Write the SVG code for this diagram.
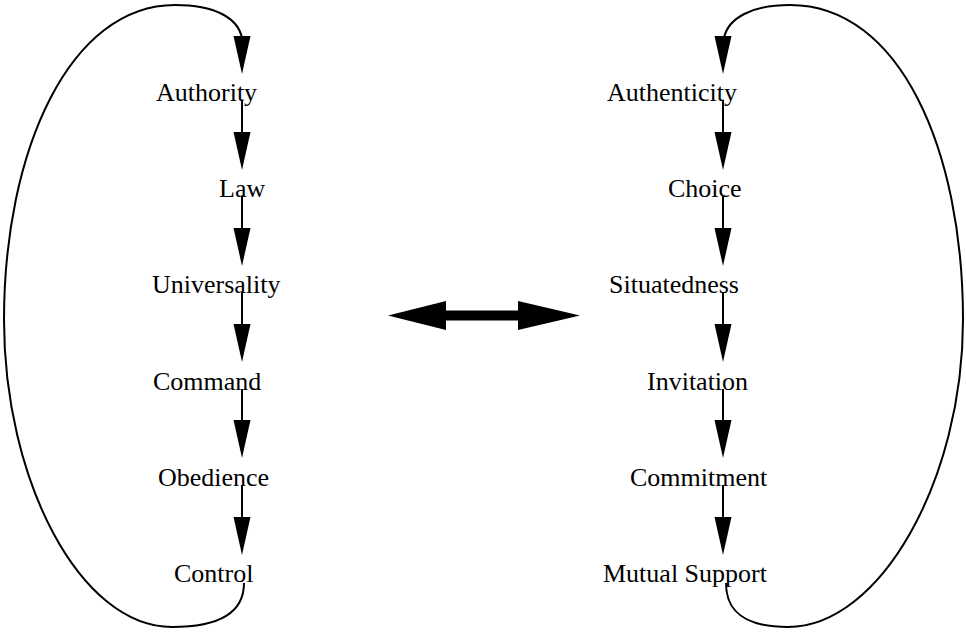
<svg xmlns="http://www.w3.org/2000/svg" xmlns:xlink="http://www.w3.org/1999/xlink" width="966" height="632" viewBox="0 0 966 632">
<style>
text { font-family: "Liberation Serif", "Times New Roman", serif; font-size: 26px; fill: #000; }
.ln { fill: none; stroke: #000; stroke-width: 2; }
.ah { fill: #000; stroke: none; }
</style>
<defs>
<path id="ah" d="M-8.5,-38 L8.5,-38 L0,0 Z"/>
</defs>
<rect width="966" height="632" fill="#fff"/>
<g id="connectors">
  <path class="ln" d="M244 583 C244 615 215 627 172 627 C80 627 4 480 4 320 C4 150 70 5 175 5 C215 5 238 18 242 38"/>
  <use class="ah" xlink:href="#ah" x="242" y="74"/>
  <path class="ln" d="M242 100 V134 M242 196 V230 M242 292 V326 M242 389 V422 M242 485 V519"/>
  <use class="ah" xlink:href="#ah" x="242" y="170"/>
  <use class="ah" xlink:href="#ah" x="242" y="266"/>
  <use class="ah" xlink:href="#ah" x="242" y="362"/>
  <use class="ah" xlink:href="#ah" x="242" y="458"/>
  <use class="ah" xlink:href="#ah" x="242" y="555"/>

  <path class="ln" d="M726 583 C726 612 745 627 788 627 C880 627 963 480 963 320 C963 150 900 5 790 5 C752 5 728 18 724 38"/>
  <use class="ah" xlink:href="#ah" x="723" y="74"/>
  <path class="ln" d="M723 100 V134 M723 196 V230 M723 292 V326 M723 389 V422 M723 485 V519"/>
  <use class="ah" xlink:href="#ah" x="723" y="170"/>
  <use class="ah" xlink:href="#ah" x="723" y="266"/>
  <use class="ah" xlink:href="#ah" x="723" y="362"/>
  <use class="ah" xlink:href="#ah" x="723" y="458"/>
  <use class="ah" xlink:href="#ah" x="723" y="555"/>

  <polygon class="ah" points="388,315.5 446,301 446,310.5 518,310.5 518,301 580,315.5 518,330 518,320.5 446,320.5 446,330"/>
</g>
<g id="n-authority"><text x="156" y="101">Authority</text></g>
<g id="n-law"><text x="219" y="197">Law</text></g>
<g id="n-universality"><text x="152" y="293">Universality</text></g>
<g id="n-command"><text x="153" y="390">Command</text></g>
<g id="n-obedience"><text x="158" y="486">Obedience</text></g>
<g id="n-control"><text x="174" y="582">Control</text></g>
<g id="n-authenticity"><text x="607" y="101">Authenticity</text></g>
<g id="n-choice"><text x="668" y="197">Choice</text></g>
<g id="n-situatedness"><text x="609" y="293">Situatedness</text></g>
<g id="n-invitation"><text x="647" y="390">Invitation</text></g>
<g id="n-commitment"><text x="630" y="486">Commitment</text></g>
<g id="n-mutual-support"><text x="603" y="582">Mutual Support</text></g>
</svg>
